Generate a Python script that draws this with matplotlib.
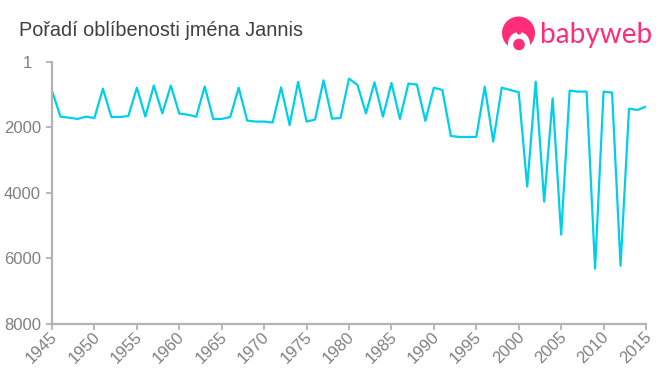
import numpy as np
import matplotlib
matplotlib.use('Agg')
import matplotlib.pyplot as plt
from matplotlib.patches import Circle, Ellipse
from matplotlib.transforms import ScaledTranslation

years = list(range(1945, 2016))
ranks = [876, 1670, 1700, 1740, 1670, 1710, 815, 1680, 1680, 1650,
         785, 1670, 720, 1570, 720, 1575, 1610, 1670, 750, 1740,
         1740, 1680, 785, 1790, 1820, 1820, 1850, 775, 1925, 610,
         1820, 1760, 560, 1730, 1710, 510, 700, 1570, 620, 1670,
         640, 1740, 660, 690, 1800, 785, 855, 2260, 2290, 2290,
         2290, 755, 2430, 785, 855, 925, 3805, 600, 4265, 1110,
         5270, 875, 905, 905, 6310, 905, 935, 6220, 1425, 1465, 1365]
xticks = list(range(1945, 2016, 5))
yticks = [1, 2000, 4000, 6000, 8000]

W, H = 660, 375
plt.rcParams['font.family'] = ['Liberation Sans', 'DejaVu Sans']

fig = plt.figure(figsize=(6.6, 3.75), dpi=100)
ax = fig.add_axes([52/W, 1-324/H, (646-52)/W, (324-62)/H])
ax.plot(years, ranks, color='#00cfea', linewidth=1.6)
ax.set_xlim(1945, 2015)
ax.set_ylim(8000, 1)
ax.set_xticks(xticks)
ax.set_yticks(yticks)
ax.set_xticklabels(xticks, rotation=45, ha='right', va='center', rotation_mode='anchor')
ax.tick_params(axis='both', colors='#b3b3b3', labelcolor='#808080', labelsize=12, length=4, width=1.3)
ax.tick_params(axis='x', pad=3.5)
ax.tick_params(axis='y', pad=4)
# x labels sit a little to the right of their ticks
for lab in ax.get_xticklabels():
    lab.set_transform(lab.get_transform() + ScaledTranslation(3/100, 0, fig.dpi_scale_trans))
# the "1" sits further left than the other y labels
lab = ax.get_yticklabels()[0]
lab.set_transform(lab.get_transform() + ScaledTranslation(-9/100, 0, fig.dpi_scale_trans))
for s in ['top', 'right']:
    ax.spines[s].set_visible(False)
for s in ['left', 'bottom']:
    ax.spines[s].set_color('#b3b3b3')
    ax.spines[s].set_linewidth(1.6)

fig.text(19/W, 1-31/H, 'Pořadí oblíbenosti jména Jannis', color='#404040', fontsize=14.3, va='center')

# logo, in pixel coordinates
logo = fig.add_axes([0, 0, 1, 1], zorder=5)
logo.set_xlim(0, W)
logo.set_ylim(H, 0)
logo.axis('off')
pink = '#ff2d78'
logo.add_patch(Circle((518.5, 33), 16.5, color=pink, lw=0))
logo.add_patch(Ellipse((519, 44), 22, 24, color='white', lw=0))
logo.add_patch(Circle((519, 32), 2.5, color=pink, lw=0))
logo.add_patch(Circle((519, 44.5), 5.8, color=pink, lw=0))
logo.text(540, 35, 'babyweb', color=pink, fontsize=20.2, family='Lato', va='center', ha='left')

fig.savefig('out.png', dpi=100)
